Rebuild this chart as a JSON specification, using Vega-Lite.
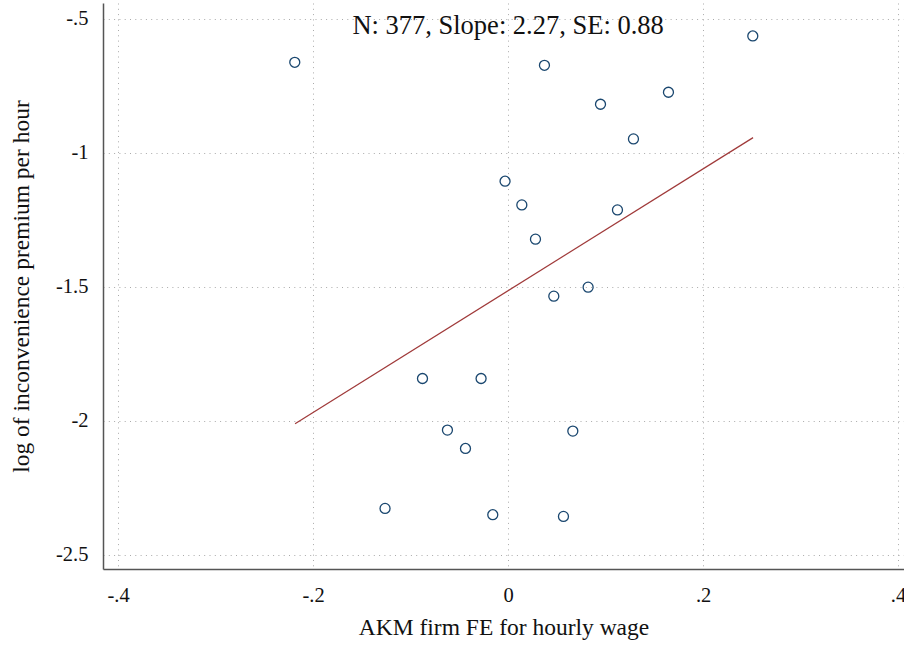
{
  "$schema": "https://vega.github.io/schema/vega-lite/v6.json",
  "width": 801,
  "height": 566,
  "autosize": "none",
  "padding": {"left": 103, "top": 3, "right": 0, "bottom": 77},
  "background": "white",
  "config": {
    "view": {"stroke": null},
    "font": "Liberation Serif",
    "axis": {
      "domainColor": "#555555",
      "domainWidth": 1.5,
      "ticks": false,
      "gridColor": "#aaaaaa",
      "gridDash": [1, 4.3],
      "gridWidth": 1,
      "labelFont": "Liberation Serif",
      "labelFontSize": 20.5,
      "labelColor": "#111111",
      "titleFont": "Liberation Serif",
      "titleFontSize": 23.5,
      "titleFontWeight": "normal",
      "titleColor": "#111111"
    }
  },
  "datasets": {
    "points": [
      {"fe": -0.2188, "premium": -0.6616},
      {"fe": 0.0373, "premium": -0.6728},
      {"fe": 0.2510, "premium": -0.5634},
      {"fe": 0.0948, "premium": -0.8183},
      {"fe": 0.1645, "premium": -0.7735},
      {"fe": 0.1286, "premium": -0.9478},
      {"fe": -0.0031, "premium": -1.1056},
      {"fe": 0.0141, "premium": -1.1940},
      {"fe": 0.1122, "premium": -1.2127},
      {"fe": 0.0281, "premium": -1.3220},
      {"fe": 0.0469, "premium": -1.5347},
      {"fe": 0.0821, "premium": -1.5011},
      {"fe": -0.0878, "premium": -1.8422},
      {"fe": -0.0277, "premium": -1.8422},
      {"fe": -0.0622, "premium": -2.0347},
      {"fe": -0.0437, "premium": -2.1034},
      {"fe": 0.0664, "premium": -2.0384},
      {"fe": -0.1262, "premium": -2.3272},
      {"fe": -0.0157, "premium": -2.3507},
      {"fe": 0.0568, "premium": -2.3571}
    ],
    "fit": [
      {"fe": -0.2185, "premium": -2.0112},
      {"fe": 0.2513, "premium": -0.9429}
    ]
  },
  "layer": [
    {
      "data": {"name": "fit"},
      "mark": {"type": "line", "color": "#a03a3a", "strokeWidth": 1.2},
      "encoding": {
        "x": {
          "field": "fe", "type": "quantitative",
          "scale": {"domain": [-0.4155, 0.4061], "nice": false, "zero": false},
          "axis": {
            "values": [-0.4, -0.2, 0, 0.2, 0.4],
            "title": "AKM firm FE for hourly wage",
            "titlePadding": 10,
            "labelPadding": 16,
            "labelExpr": "datum.value < 0 ? '-' + replace(format(abs(datum.value), '~g'), '0.', '.') : replace(format(datum.value, '~g'), '0.', '.')"
          }
        },
        "y": {
          "field": "premium", "type": "quantitative",
          "scale": {"domain": [-2.5534, -0.4403], "nice": false, "zero": false},
          "axis": {
            "values": [-0.5, -1, -1.5, -2, -2.5],
            "title": "log of inconvenience premium per hour",
            "titlePadding": 22,
            "labelPadding": 15,
            "labelExpr": "datum.value < 0 ? '-' + replace(format(abs(datum.value), '~g'), '0.', '.') : replace(format(datum.value, '~g'), '0.', '.')"
          }
        }
      }
    },
    {
      "data": {"name": "points"},
      "mark": {"type": "point", "shape": "circle", "filled": false, "color": "#1a476f", "strokeWidth": 1.3, "size": 100, "opacity": 1},
      "encoding": {
        "x": {"field": "fe", "type": "quantitative"},
        "y": {"field": "premium", "type": "quantitative"}
      }
    },
    {
      "data": {"values": [{"label": "N: 377, Slope: 2.27, SE: 0.88"}]},
      "mark": {"type": "text", "fontSize": 26.5, "font": "Liberation Serif", "color": "#111111", "baseline": "alphabetic", "align": "center", "dy": 15},
      "encoding": {
        "x": {"datum": 0, "type": "quantitative"},
        "y": {"datum": -0.5, "type": "quantitative"},
        "text": {"field": "label"}
      }
    }
  ]
}
